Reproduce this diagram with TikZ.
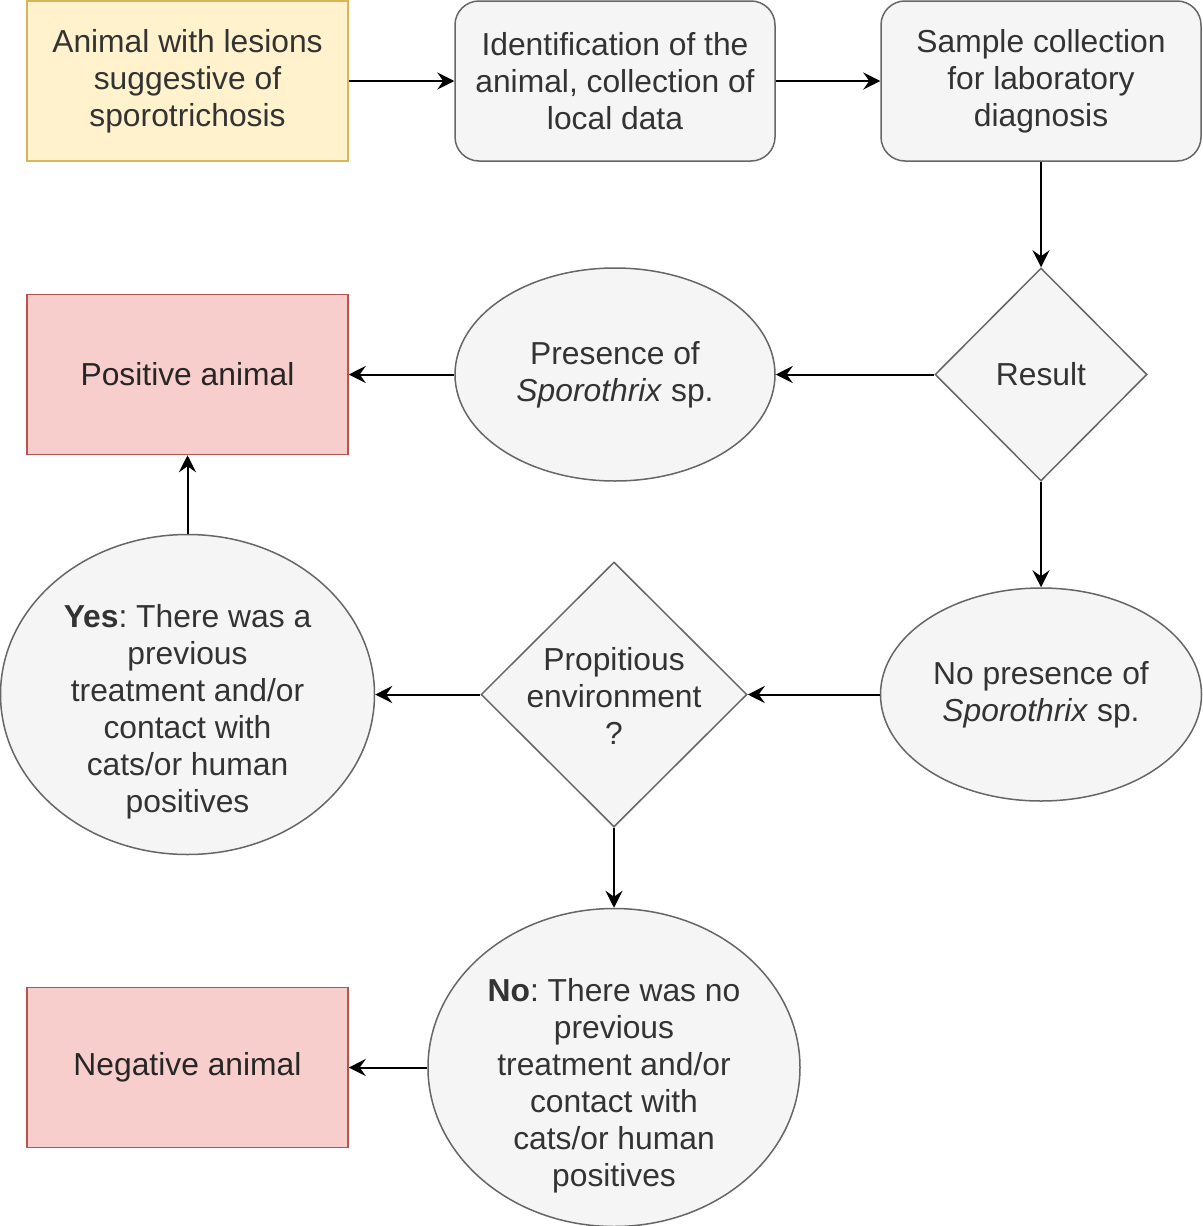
\documentclass[tikz,border=0pt]{standalone}
\usepackage{fontspec}
\setmainfont{Liberation Sans}
\usetikzlibrary{shapes.geometric,arrows.meta}
\definecolor{greyfill}{HTML}{F5F5F5}
\definecolor{greyline}{HTML}{666666}
\definecolor{greytext}{HTML}{333333}
\definecolor{yfill}{HTML}{FFF2CC}
\definecolor{yline}{HTML}{D6B656}
\definecolor{rfill}{HTML}{F8CECC}
\definecolor{rline}{HTML}{B85450}
\frenchspacing
\begin{document}
\begin{tikzpicture}[x=0.5pt,y=-0.5pt,
  base/.style={line width=0.75pt, align=center, inner sep=0pt, font=\fontsize{15.9}{18.5}\selectfont},
  txt/.style={align=center, inner sep=0pt, font=\fontsize{15.9}{18.5}\selectfont, text=greytext},
  yellowbox/.style={base, draw=yline, fill=yfill, text=greytext, minimum width=160.5pt, minimum height=80pt},
  redbox/.style={base, draw=rline, fill=rfill, text=black!85, minimum width=160.5pt, minimum height=80pt},
  greybox/.style={base, draw=greyline, fill=greyfill, text=greytext, rounded corners=12pt, minimum width=160pt, minimum height=80pt},
  greyell/.style={base, ellipse, draw=greyline, fill=greyfill, text=greytext},
  greydia/.style={base, diamond, draw=greyline, fill=greyfill, text=greytext},
  flow/.style={-{Stealth[length=8.5pt,width=8.5pt,inset=3pt]}, line width=1pt, black}
]
\useasboundingbox (0,0) rectangle (1203,1226);

\node[yellowbox] (A) at (187.5,81) {Animal with lesions\\suggestive of\\sporotrichosis};
\node[greybox] (B) at (615,81) {Identification of the\\animal, collection of\\local data};
\node[greybox] (C) at (1041,81) {Sample collection\\for laboratory\\diagnosis};

\node[greydia, minimum width=106pt, minimum height=106.5pt] (res) at (1041,374.5) {Result};
\node[greyell, minimum width=160pt, minimum height=106.5pt] (pres) at (615,374.5) {Presence of\\\textit{Sporothrix} sp.};
\node[redbox] (pos) at (187.5,374.5) {Positive animal};

\node[greyell, minimum width=160.5pt, minimum height=106.5pt] (nopres) at (1041,694.5) {No presence of\\\textit{Sporothrix} sp.};
\node[greydia, minimum width=133pt, minimum height=132.5pt] (prop) at (614,694.5) {};
\node[txt] (proptxt) at (614,695.5) {Propitious\\environment\\?};
\node[greyell, minimum width=187pt, minimum height=160pt] (yes) at (187.5,694.5) {};
\node[txt] (yestxt) at (187.5,712) {\textbf{Yes}: There was a\\previous\\treatment and/or\\contact with\\cats/or human\\positives};

\node[greyell, minimum width=186pt, minimum height=159pt] (no) at (614,1067.5) {};
\node[txt] (notxt) at (614,1086) {\textbf{No}: There was no\\previous\\treatment and/or\\contact with\\cats/or human\\positives};
\node[redbox] (neg) at (187.5,1067.5) {Negative animal};

\draw[flow] (A) -- (B);
\draw[flow] (B) -- (C);
\draw[flow] (C) -- (res);
\draw[flow] (res) -- (pres);
\draw[flow] (pres) -- (pos);
\draw[flow] (res) -- (nopres);
\draw[flow] (nopres) -- (prop);
\draw[flow] (prop) -- (yes);
\draw[flow] (yes) -- (pos);
\draw[flow] (prop) -- (no);
\draw[flow] (no) -- (neg);
\end{tikzpicture}
\end{document}
